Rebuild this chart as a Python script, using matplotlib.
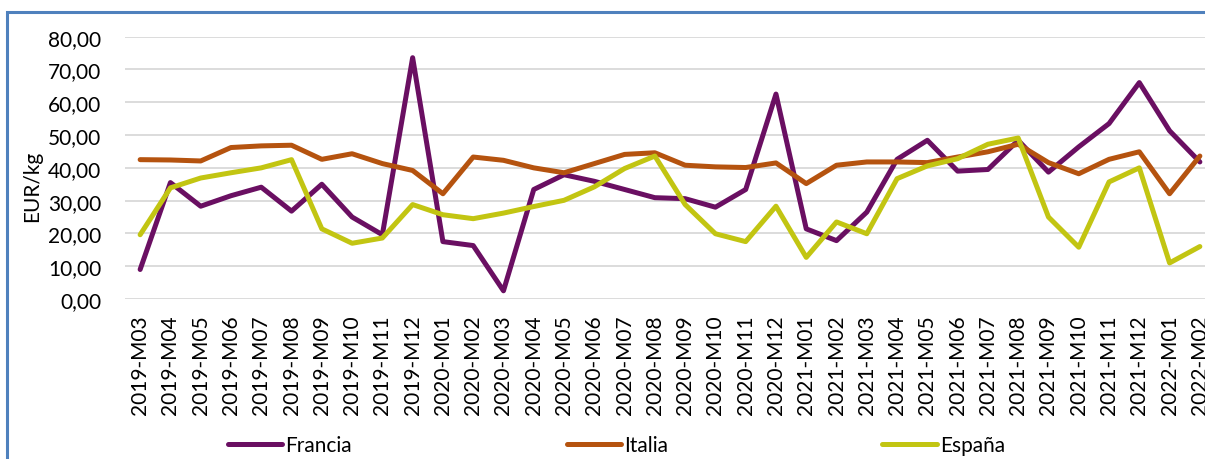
import matplotlib
matplotlib.use("Agg")
import matplotlib.pyplot as plt
from matplotlib.patches import Rectangle
from matplotlib.ticker import FuncFormatter, MultipleLocator

plt.rcParams['font.family'] = ['Lato', 'DejaVu Sans']

# months 2019-M03 .. 2022-M02
months = []
for y in range(2019, 2023):
    for m in range(1, 13):
        if (y == 2019 and m < 3) or (y == 2022 and m > 2):
            continue
        months.append("{}-M{:02d}".format(y, m))

francia = [9.0, 35.5, 28.3, 31.5, 34.1, 26.8, 35.0, 25.0, 19.6, 73.6,
           17.5, 16.3, 2.5, 33.4, 37.9, 35.9, 33.4, 30.9, 30.6, 28.0,
           33.4, 62.5, 21.4, 17.8, 26.5, 42.6, 48.4, 39.0, 39.5, 48.4,
           38.7, 46.4, 53.5, 66.0, 51.3, 41.8]
italia = [42.5, 42.4, 42.1, 46.2, 46.7, 46.9, 42.6, 44.3, 41.3, 39.2,
          32.1, 43.3, 42.3, 40.0, 38.5, 41.3, 44.1, 44.6, 40.8, 40.3,
          40.1, 41.5, 35.2, 40.8, 41.8, 41.8, 41.6, 43.3, 44.9, 47.2,
          41.6, 38.2, 42.6, 44.9, 32.1, 43.6]
espana = [19.6, 33.9, 36.9, 38.5, 40.0, 42.5, 21.4, 17.0, 18.6, 28.8,
          25.7, 24.5, 26.2, 28.2, 30.1, 34.2, 39.8, 43.6, 28.8, 19.9,
          17.5, 28.3, 12.7, 23.5, 19.9, 36.7, 40.6, 42.8, 47.2, 49.1,
          25.0, 15.8, 35.7, 40.0, 11.0, 16.0]

series = [("Francia", francia, "#6A0F62"),
          ("Italia", italia, "#B5530F"),
          ("España", espana, "#C2C512")]

fig = plt.figure(figsize=(12.05, 4.6), dpi=100)
ax = fig.add_axes([125 / 1205, 1 - 300 / 460, 1090 / 1205, (300 - 37.7) / 460])

x = list(range(len(months)))
for name, vals, col in series:
    ax.plot(x, vals, color=col, lw=3.6, label=name,
            solid_joinstyle='round', solid_capstyle='round')

ax.set_xlim(-0.5, len(months) - 0.5)
ax.set_ylim(0, 80)
ax.yaxis.set_major_locator(MultipleLocator(10))
ax.yaxis.set_major_formatter(FuncFormatter(lambda v, p: "{:.2f}".format(v).replace(".", ",")))
ax.set_xticks(x)
ax.set_xticklabels(months, rotation=90, fontsize=15)
ax.tick_params(axis='x', length=0, pad=11)
ax.tick_params(axis='y', length=0, pad=17, labelsize=15)
ax.grid(axis='y', color='#D9D9D9', lw=1.3)
ax.set_axisbelow(True)
for s in ax.spines.values():
    s.set_visible(False)

fig.text(32 / 1205, 1 - 186 / 460, "EUR/kg", rotation=90, fontsize=15,
         ha='center', va='center')

fig.legend(loc='center left', bbox_to_anchor=(228 / 1205, 1 - 446 / 460),
           ncol=3, frameon=False, fontsize=15, handlelength=2.6,
           handletextpad=0.15, columnspacing=10.3, borderpad=0,
           borderaxespad=0)

# outer chart border (right and bottom fall outside the picture)
fig.patches.append(Rectangle((7.5 / 1205, -0.1), 1.2, 1.1 - 13 / 460,
                             transform=fig.transFigure, fill=False,
                             edgecolor='#4F81BD', lw=2.2))

fig.savefig("out.png", dpi=100)
